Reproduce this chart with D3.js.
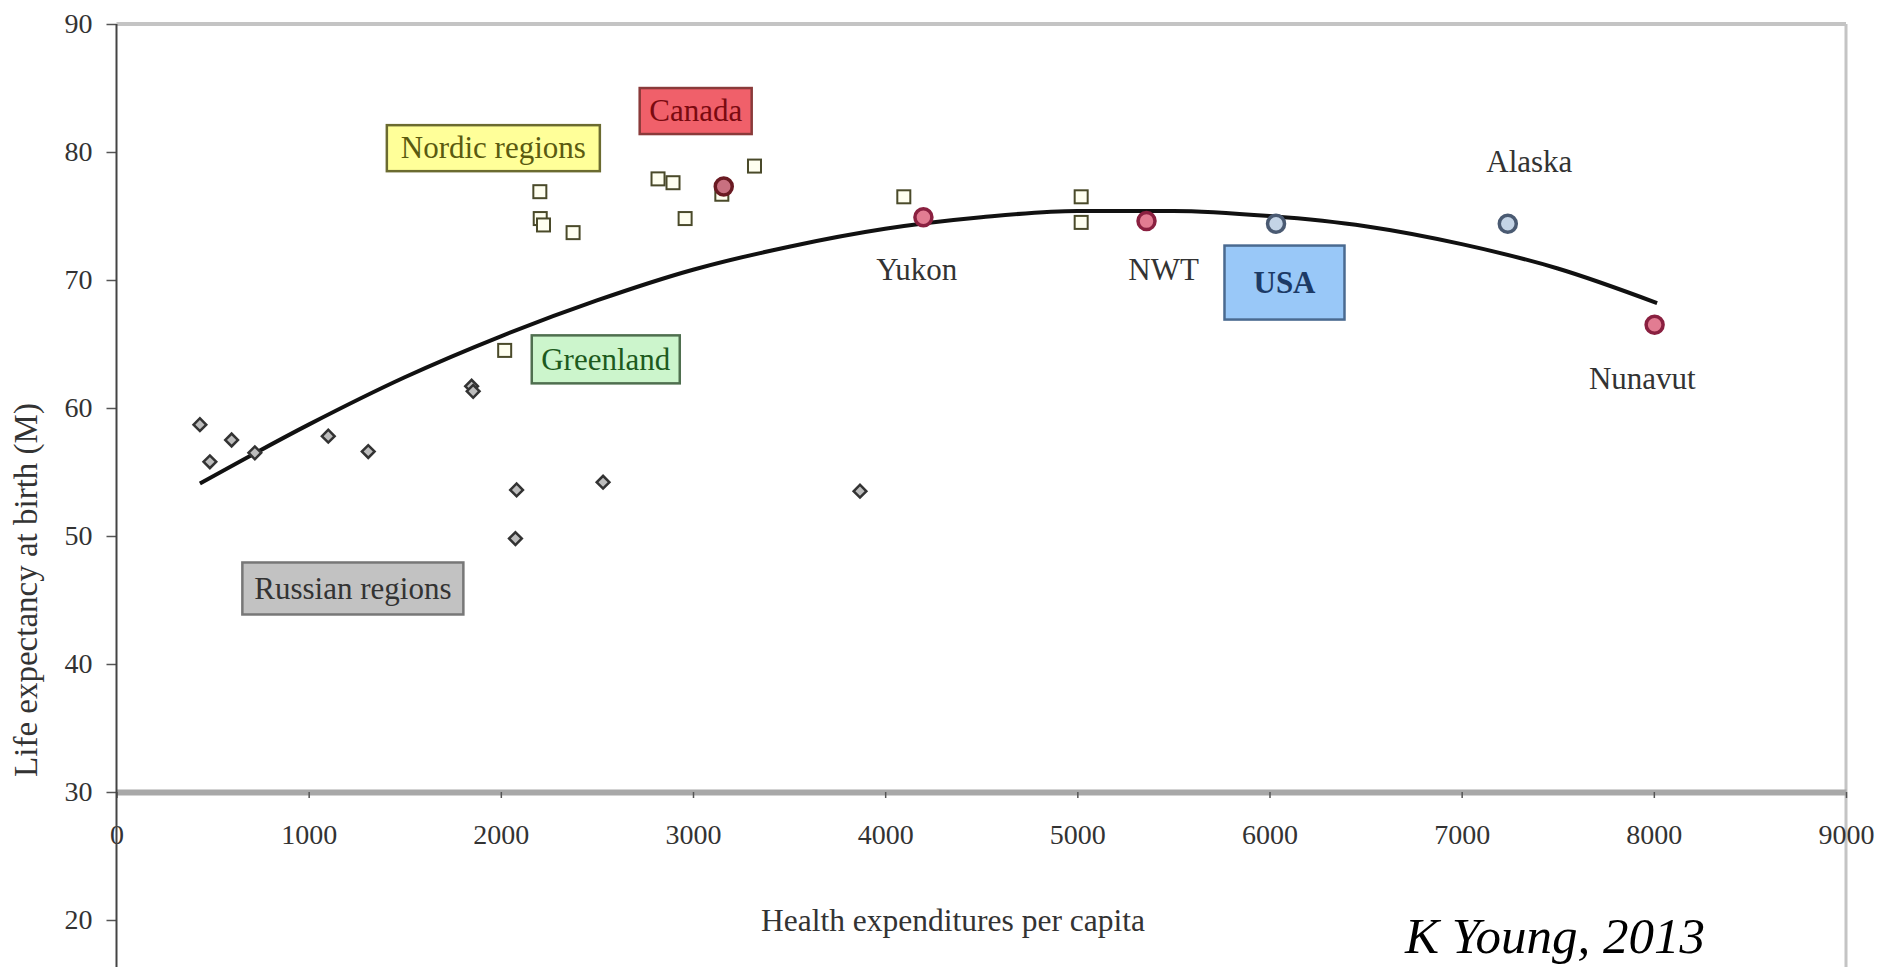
<!DOCTYPE html>
<html lang="en">
<head>
<meta charset="UTF-8">
<title>Life expectancy vs health expenditures</title>
<script src="https://d3js.org/d3.v7.min.js"></script>
<style>
  body { margin: 0; padding: 0; background: #fff; overflow: hidden; }
  svg { display: block; }
  text { font-family: "Liberation Serif", "Times New Roman", serif; }
</style>
</head>
<body>
<svg id="chart" width="1883" height="967"></svg>
<script>
// Russian regions (diamonds)
const russianX = [434, 486, 599, 720, 1102, 1310, 1848, 1856, 2076, 2082, 2532, 3869];
const russianY = [58.7, 55.8, 57.5, 56.5, 57.8, 56.6, 61.7, 61.3, 49.8, 53.6, 54.2, 53.5];

// Nordic regions + Greenland (open squares)
const nordicX = [2020, 2203, 2205, 2222, 2376, 2818, 2896, 2959, 3150, 3320, 4097, 5020, 5020];
const nordicY = [64.5, 76.9, 74.8, 74.3, 73.7, 77.9, 77.6, 74.8, 76.7, 78.9, 76.5, 76.5, 74.5];

// Canada / northern territories / USA (circles)
const regionNames = ["Canada", "Yukon", "NWT", "USA", "Alaska", "Nunavut"];
const regionX = [3160, 4199, 5360, 6034, 7240, 8004];
const regionY = [77.3, 74.9, 74.6, 74.4, 74.4, 66.5];
const regionGroup = ["canada", "north", "north", "usa", "usa", "north"];

// trend curve
const trendX = [434, 1000, 1500, 2000, 2500, 3000, 3500, 4000, 4500, 5000, 5500, 6000, 6500, 7000, 7500, 8017];
const trendY = [54.1, 58.7, 62.4, 65.6, 68.4, 70.8, 72.6, 74.0, 74.9, 75.4, 75.4, 75.0, 74.2, 72.8, 70.9, 68.2];

const xTicks = [0, 1000, 2000, 3000, 4000, 5000, 6000, 7000, 8000, 9000];
const yTicks = [20, 30, 40, 50, 60, 70, 80, 90];

const svg = d3.select("#chart");
const W = 1883, H = 967;

const x = d3.scaleLinear().domain([0, 9000]).range([116.5, 1846]);
const y = d3.scaleLinear().domain([30, 90]).range([792, 24]);

// frame lines (top and right)
svg.append("line")
  .attr("x1", x(0)).attr("x2", x(9000)).attr("y1", y(90)).attr("y2", y(90))
  .attr("stroke", "#c4c4c4").attr("stroke-width", 4);
svg.append("line")
  .attr("x1", x(9000)).attr("x2", x(9000)).attr("y1", y(90)).attr("y2", H)
  .attr("stroke", "#c4c4c4").attr("stroke-width", 3);

// x axis at y = 30
const xAxis = svg.append("g")
  .attr("transform", `translate(0,${y(30)})`)
  .call(d3.axisBottom(x).tickValues(xTicks).tickFormat(d3.format("d"))
    .tickSize(6).tickSizeOuter(0).tickPadding(26));
xAxis.select(".domain").attr("stroke", "#a8a8a8").attr("stroke-width", 6);
xAxis.selectAll(".tick line").attr("stroke", "#555").attr("stroke-width", 1.5);
xAxis.selectAll(".tick text")
  .style("font-family", "'Liberation Serif', serif")
  .style("font-size", "28px").attr("fill", "#333");

// y axis, line runs down past the x axis
const yAxis = svg.append("g")
  .attr("transform", `translate(${x(0)},0)`)
  .call(d3.axisLeft(y).tickValues(yTicks).tickSize(10).tickSizeOuter(0).tickPadding(14));
yAxis.select(".domain").remove();
yAxis.selectAll(".tick line").attr("stroke", "#555").attr("stroke-width", 1.5);
yAxis.selectAll(".tick text")
  .style("font-family", "'Liberation Serif', serif")
  .style("font-size", "28px").attr("fill", "#333");
svg.append("line")
  .attr("x1", x(0)).attr("x2", x(0)).attr("y1", y(90)).attr("y2", H)
  .attr("stroke", "#444").attr("stroke-width", 2);

// axis titles
svg.append("text")
  .attr("x", 953).attr("y", 931)
  .attr("text-anchor", "middle")
  .style("font-size", "31.5px").attr("fill", "#333")
  .text("Health expenditures per capita");
svg.append("text")
  .attr("transform", "translate(37,590) rotate(-90)")
  .attr("text-anchor", "middle")
  .style("font-size", "33px").attr("fill", "#333")
  .text("Life expectancy at birth (M)");

// annotation boxes
const boxNotes = [
  { text: "Nordic regions", cx: 1961, cy: 80.3, w: 213, h: 46, fill: "#ffff99", stroke: "#6b6b30", color: "#5a5a10", weight: "normal" },
  { text: "Canada", cx: 3014, cy: 83.2, w: 112, h: 46, fill: "#f0606a", stroke: "#8a3a3a", color: "#7a0a10", weight: "normal" },
  { text: "Greenland", cx: 2546, cy: 63.8, w: 148, h: 48, fill: "#ccf5cc", stroke: "#4f6f4f", color: "#1d5a1d", weight: "normal" },
  { text: "USA", cx: 6078, cy: 69.8, w: 120, h: 74, fill: "#99c8f8", stroke: "#4a6a90", color: "#1c3a66", weight: "bold" },
  { text: "Russian regions", cx: 1230, cy: 45.9, w: 221, h: 52, fill: "#c2c2c2", stroke: "#777", color: "#333", weight: "normal" }
];
const boxes = svg.append("g").selectAll("g").data(boxNotes).join("g")
  .attr("transform", d => `translate(${x(d.cx)},${y(d.cy)})`);
boxes.append("rect")
  .attr("x", d => -d.w / 2).attr("y", d => -d.h / 2)
  .attr("width", d => d.w).attr("height", d => d.h)
  .attr("fill", d => d.fill).attr("stroke", d => d.stroke).attr("stroke-width", 2.5);
boxes.append("text")
  .attr("text-anchor", "middle").attr("dy", "0.33em")
  .style("font-size", "31px").style("font-weight", d => d.weight)
  .attr("fill", d => d.color)
  .text(d => d.text);

// plain labels
const plainNotes = [
  { text: "Yukon", cx: 4164, cy: 70.8 },
  { text: "NWT", cx: 5449, cy: 70.8 },
  { text: "Alaska", cx: 7352, cy: 79.2 },
  { text: "Nunavut", cx: 7940, cy: 62.3 }
];
svg.append("g").selectAll("text").data(plainNotes).join("text")
  .attr("x", d => x(d.cx)).attr("y", d => y(d.cy))
  .attr("text-anchor", "middle").attr("dy", "0.33em")
  .style("font-size", "31px").attr("fill", "#333")
  .text(d => d.text);

// trend curve
const trend = trendX.map((v, i) => [v, trendY[i]]);
svg.append("path")
  .datum(trend)
  .attr("fill", "none").attr("stroke", "#111").attr("stroke-width", 4)
  .attr("d", d3.line().x(d => x(d[0])).y(d => y(d[1])).curve(d3.curveMonotoneX));

// Russian diamonds (squares turned 45 degrees)
svg.append("g").selectAll("rect").data(russianX.map((v, i) => [v, russianY[i]])).join("rect")
  .attr("transform", d => `translate(${x(d[0])},${y(d[1])}) rotate(45)`)
  .attr("x", -4.5).attr("y", -4.5).attr("width", 9).attr("height", 9)
  .attr("fill", "#bdbdbd").attr("stroke", "#333").attr("stroke-width", 2.5);

// Nordic squares
svg.append("g").selectAll("rect").data(nordicX.map((v, i) => [v, nordicY[i]])).join("rect")
  .attr("x", d => x(d[0]) - 6.5).attr("y", d => y(d[1]) - 6.5)
  .attr("width", 13).attr("height", 13)
  .attr("fill", "#fffff0").attr("stroke", "#4a4a2a").attr("stroke-width", 2);

// region circles
const circleStyle = {
  canada: { fill: "#c87080", stroke: "#6a1a22" },
  north: { fill: "#e27c92", stroke: "#8a2040" },
  usa: { fill: "#c4d4e6", stroke: "#4a5a72" }
};
svg.append("g").selectAll("circle").data(regionNames.map((n, i) => ({ n, v: regionX[i], l: regionY[i], g: regionGroup[i] }))).join("circle")
  .attr("cx", d => x(d.v)).attr("cy", d => y(d.l))
  .attr("r", 8.5)
  .attr("fill", d => circleStyle[d.g].fill)
  .attr("stroke", d => circleStyle[d.g].stroke)
  .attr("stroke-width", 3.5);

// credit
svg.append("text")
  .attr("x", 1405).attr("y", 953)
  .style("font-size", "51px").style("font-style", "italic").attr("fill", "#000")
  .text("K Young, 2013");
</script>
</body>
</html>
